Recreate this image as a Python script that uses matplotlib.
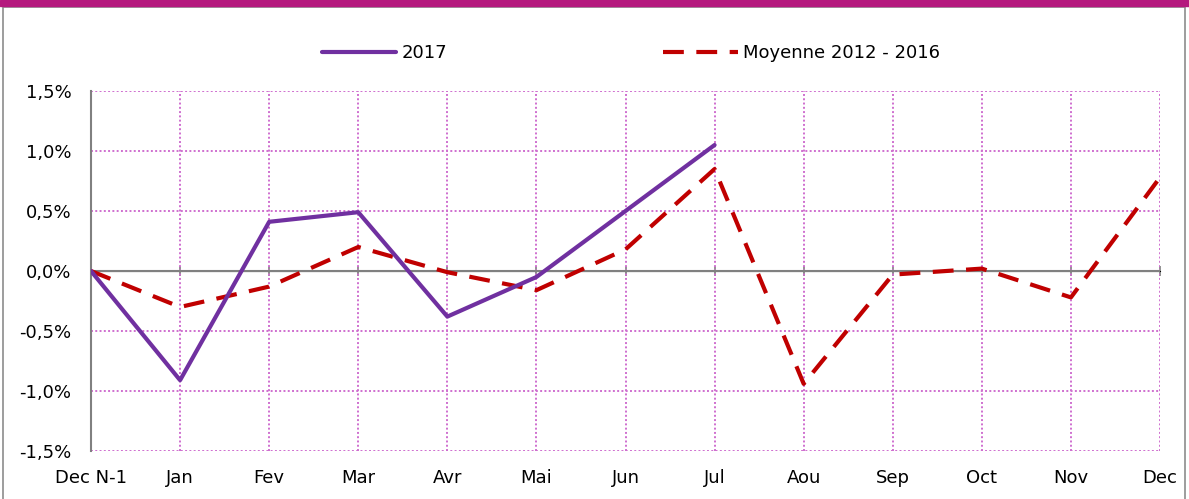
import matplotlib
matplotlib.use("Agg")
import matplotlib.pyplot as plt
from matplotlib.patches import Rectangle
from matplotlib.ticker import FuncFormatter, MultipleLocator

months = ["Dec N-1", "Jan", "Fev", "Mar", "Avr", "Mai", "Jun",
          "Jul", "Aou", "Sep", "Oct", "Nov", "Dec"]
val_2017 = [0.0, -0.91, 0.41, 0.49, -0.38, -0.05, 0.50, 1.05]
val_moy = [0.0, -0.30, -0.13, 0.20, -0.01, -0.16, 0.18, 0.85,
           -0.94, -0.03, 0.02, -0.22, 0.78]

plt.rcParams['font.family'] = ['DejaVu Sans']
plt.rcParams['font.size'] = 13

fig = plt.figure(figsize=(11.89, 4.99), dpi=100)
ax = fig.add_axes([91 / 1189, 1 - 451 / 499, (1160 - 91) / 1189, 360 / 499])

# outer frame + magenta header band
fig.patches.append(Rectangle((3 / 1189, -0.1), 1182 / 1189, 1.1 - 7 / 499,
                             transform=fig.transFigure, fill=False,
                             edgecolor='#8c8c8c', linewidth=1.2))
fig.patches.append(Rectangle((0, 1 - 6 / 499), 1, 6 / 499,
                             transform=fig.transFigure, color='#B5197E'))

x = list(range(len(months)))
ax.plot(x[:len(val_2017)], val_2017, color='#7030A0', lw=3, label='2017',
        zorder=4, solid_capstyle='round')
ax.plot(x, val_moy, color='#C00000', lw=3, ls=(0, (5, 3)), label='Moyenne 2012 - 2016',
        zorder=3)

ax.set_xlim(0, len(months) - 1)
ax.set_ylim(-1.5, 1.5)
ax.yaxis.set_major_locator(MultipleLocator(0.5))
ax.yaxis.set_major_formatter(FuncFormatter(lambda v, p: f"{v:.1f}%".replace('.', ',')))
ax.set_xticks(x)
ax.set_xticklabels(months)
ax.tick_params(axis='x', length=0, pad=13, labelsize=13)
ax.tick_params(axis='y', length=0, pad=14, labelsize=13)

ax.grid(True, color='#CF6FCF', ls=(0, (1, 1.2)), lw=1.4)
for s in ['top', 'right', 'bottom']:
    ax.spines[s].set_visible(False)
ax.spines['left'].set_color('#808080')
ax.spines['left'].set_linewidth(1.5)
ax.axhline(0, color='#808080', lw=1.5, zorder=2)

# tick marks on the zero line
sec = ax.secondary_xaxis(0.5)
sec.set_xticks(x)
sec.set_xticklabels([])
sec.tick_params(direction='inout', length=7, color='#808080', width=1.2)
sec.spines['bottom'].set_visible(False)

ax.legend(loc='lower center', bbox_to_anchor=(0.505, 1.035), ncol=2, frameon=False,
          handlelength=4.1, columnspacing=12, fontsize=13, handletextpad=0.3)

fig.savefig("out.png", dpi=100)
